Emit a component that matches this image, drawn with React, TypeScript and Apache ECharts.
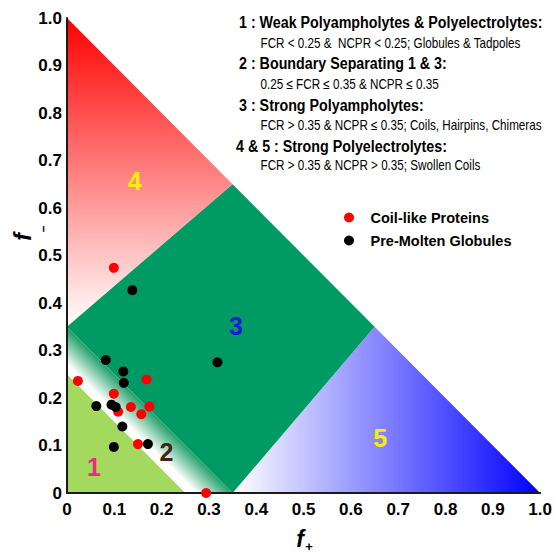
import React, { useEffect, useRef } from "react";
import * as echarts from "echarts";

const SANS = "'Liberation Sans', Arial, sans-serif";

// Scatter data: [f+, f-]
const coilLike: number[][] = [
  [0.023, 0.236], [0.099, 0.209], [0.108, 0.171], [0.135, 0.181], [0.157, 0.166],
  [0.174, 0.182], [0.168, 0.239], [0.150, 0.103], [0.294, 0.0], [0.099, 0.474],
];
const preMolten: number[][] = [
  [0.138, 0.427], [0.082, 0.280], [0.119, 0.256], [0.120, 0.232], [0.062, 0.183],
  [0.094, 0.186], [0.103, 0.181], [0.117, 0.140], [0.099, 0.097], [0.171, 0.103],
  [0.318, 0.275],
];

// Region boundaries (data space)
const region1 = [[0, 0], [0.25, 0], [0, 0.25]];
const region2 = [[0.25, 0], [0.35, 0], [0, 0.35], [0, 0.25]];
const region3 = [[0, 0.35], [0.35, 0], [0.65, 0.35], [0.35, 0.65]];
const region4 = [[0, 0.35], [0, 1], [0.35, 0.65]];
const region5 = [[0.35, 0], [1, 0], [0.65, 0.35]];

const regionNames = ["1", "2", "3", "4", "5"];
const regionNameAt = [[0.057, 0.055], [0.21, 0.087], [0.357, 0.352], [0.143, 0.656], [0.662, 0.116]];
const regionNameColors = ["#ee2a7b", "#3d2416", "#1a1ad2", "#fff000", "#f7ef00"];

const headings = [
  "1 : Weak Polyampholytes & Polyelectrolytes:",
  "2 : Boundary Separating 1 & 3:",
  "3 : Strong Polyampholytes:",
  "4 & 5 : Strong Polyelectrolytes:",
];
const details = [
  "FCR < 0.25 &  NCPR < 0.25; Globules & Tadpoles",
  "0.25 \u2264 FCR \u2264 0.35 & NCPR \u2264 0.35",
  "FCR > 0.35 & NCPR \u2264 0.35; Coils, Hairpins, Chimeras",
  "FCR > 0.35 & NCPR > 0.35; Swollen Coils",
];
const headingY = [22, 63, 105, 146];
const headingX = [239, 239, 239, 236];
const detailY = [43, 84, 125, 165];

export default function App() {
  const ref = useRef<HTMLDivElement>(null);
  useEffect(() => {
    const chart = echarts.init(ref.current!, null, { renderer: "svg" });
    const tickFmt = (v: number) => (v === 0 ? "0" : v.toFixed(1));
    const graphic: any[] = [];
    headings.forEach((t, i) => {
      graphic.push({
        type: "text", x: headingX[i], y: headingY[i], z: 10, scaleX: 0.84,
        style: { text: t, fill: "#000", font: `bold 17px ${SANS}`, textVerticalAlign: "middle", textAlign: "left" },
      });
    });
    details.forEach((t, i) => {
      graphic.push({
        type: "text", x: 260.5, y: detailY[i], z: 10, scaleX: 0.835,
        style: { text: t, fill: "#000", font: `14px ${SANS}`, textVerticalAlign: "middle", textAlign: "left" },
      });
    });
    // axis names
    graphic.push(
      { type: "text", x: 300, y: 539, z: 10, style: { text: "f", fill: "#000", font: `italic bold 23px ${SANS}`, textAlign: "center", textVerticalAlign: "middle" } },
      { type: "text", x: 309, y: 546, z: 10, style: { text: "+", fill: "#000", font: `bold 13px ${SANS}`, textAlign: "center", textVerticalAlign: "middle" } },
      { type: "text", x: 23, y: 237, rotation: Math.PI / 2, z: 10, style: { text: "f", fill: "#000", font: `italic bold 23px ${SANS}`, textAlign: "center", textVerticalAlign: "middle" } },
      { type: "text", x: 43, y: 229, rotation: Math.PI / 2, z: 10, style: { text: "\u2013", fill: "#000", font: `bold 12px ${SANS}`, textAlign: "center", textVerticalAlign: "middle" } }
    );

    const option: any = {
      animation: false,
      backgroundColor: "#fff",
      grid: { left: 67, top: 18, width: 476, height: 475, containLabel: false },
      xAxis: {
        type: "value", min: 0, max: 1, interval: 0.1, z: 5,
        axisLine: { show: true, onZero: false, lineStyle: { color: "#1a1a1a", width: 2 } },
        axisTick: { show: false },
        splitLine: { show: false },
        axisLabel: { formatter: tickFmt, margin: 8, color: "#000", fontFamily: SANS, fontWeight: "bold", fontSize: 17 },
      },
      yAxis: {
        type: "value", min: 0, max: 1, interval: 0.1, z: 5,
        axisLine: { show: true, onZero: false, lineStyle: { color: "#1a1a1a", width: 2 } },
        axisTick: { show: false },
        splitLine: { show: false },
        axisLabel: { formatter: tickFmt, margin: 5, color: "#000", fontFamily: SANS, fontWeight: "bold", fontSize: 17 },
      },
      legend: {
        data: ["Coil-like Proteins", "Pre-Molten Globules"],
        orient: "vertical", left: 344, top: 210, padding: 0, itemWidth: 33, itemHeight: 10, itemGap: 8,
        icon: "circle",
        textStyle: { color: "#000", fontFamily: SANS, fontWeight: "bold", fontSize: 14.5 },
      },
      graphic,
      series: [
        {
          type: "custom", name: "regions", z: 1, silent: true, clip: false,
          data: [[0, 0]],
          encode: { x: 0, y: 1 },
          renderItem: (_params: any, api: any) => {
            const c = (p: number[]) => api.coord(p);
            const pts = (r: number[][]) => r.map(c);
            const t4 = c([0, 1]), b4 = c([0, 0.35]);
            const g4 = new echarts.graphic.LinearGradient(0, t4[1], 0, b4[1], [
              { offset: 0, color: "#ff0000" }, { offset: 1, color: "#ffffff" },
            ], true);
            const l5 = c([0.35, 0]), r5 = c([1, 0]);
            const g5 = new echarts.graphic.LinearGradient(l5[0], 0, r5[0], 0, [
              { offset: 0, color: "#ffffff" }, { offset: 1, color: "#0000ff" },
            ], true);
            const a2 = c([0.125, 0.125]), b2 = c([0.175, 0.175]);
            const g2 = new echarts.graphic.LinearGradient(a2[0], a2[1], b2[0], b2[1], [
              { offset: 0, color: "#ffffff" }, { offset: 0.22, color: "#ffffff" }, { offset: 1, color: "#22a06b" },
            ], true);
            const children: any[] = [
              { type: "polygon", shape: { points: pts(region4) }, style: { fill: g4 } },
              { type: "polygon", shape: { points: pts(region5) }, style: { fill: g5 } },
              { type: "polygon", shape: { points: pts(region3) }, style: { fill: "#009b64" } },
              { type: "polygon", shape: { points: pts(region2) }, style: { fill: g2 } },
              { type: "polygon", shape: { points: pts(region1) }, style: { fill: "#a3d95f" } },
            ];
            regionNames.forEach((n, i) => {
              const p = c(regionNameAt[i]);
              children.push({
                type: "text", x: p[0], y: p[1],
                style: { text: n, fill: regionNameColors[i], font: `bold 25px ${SANS}`, textAlign: "center", textVerticalAlign: "middle" },
              });
            });
            return { type: "group", children };
          },
        },
        {
          type: "scatter", name: "Coil-like Proteins", data: coilLike, z: 6, clip: false,
          symbol: "circle", symbolSize: 10, itemStyle: { color: "#ff0000", opacity: 1 },
        },
        {
          type: "scatter", name: "Pre-Molten Globules", data: preMolten, z: 6, clip: false,
          symbol: "circle", symbolSize: 10, itemStyle: { color: "#000000", opacity: 1 },
        },
      ],
    };
    chart.setOption(option);
    return () => chart.dispose();
  }, []);
  return <div ref={ref} style={{ position: "absolute", left: 0, top: 0, width: 555, height: 553 }} />;
}
